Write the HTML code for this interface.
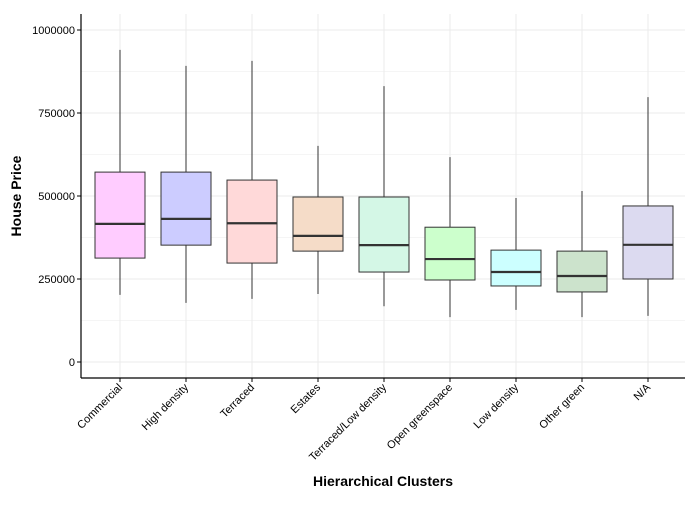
<!DOCTYPE html>
<html><head><meta charset="utf-8"><style>
body{margin:0;background:#fff;font-family:"Liberation Sans",sans-serif}
</style></head><body>
<svg id="chart" width="700" height="500" xmlns="http://www.w3.org/2000/svg">
<g id="grid"></g><g id="boxes"></g><g id="axes"></g>
<text x="383" y="486" text-anchor="middle" font-size="14" font-weight="bold">Hierarchical Clusters</text>
<text transform="translate(21,196) rotate(-90)" text-anchor="middle" font-size="14" font-weight="bold">House Price</text>
</svg>
<script>
const categories=["Commercial","High density","Terraced","Estates","Terraced/Low density","Open greenspace","Low density","Other green","N/A"];
const lows=[202000,178000,190000,205000,168000,135000,157000,135000,139000];
const q1s=[313000,352000,298000,334000,271000,247000,229000,211000,250000];
const medians=[416000,431000,418000,380000,352000,310000,271000,259000,353000];
const q3s=[572000,572000,548000,497000,497000,406000,337000,334000,470000];
const highs=[940000,892000,907000,651000,831000,617000,494000,515000,798000];
const fills=["#ffccff","#ccccff","#ffd9d9","#f5dcc8","#d4f7e6","#ccffcc","#ccffff","#cce3cc","#dcdaf0"];
const yTicks=[0,250000,500000,750000,1000000];
const NS="http://www.w3.org/2000/svg";
const L=81,R=685,T=14,B=378;
const y=v=>362-v/250000*83;
const x=i=>120+i*66;
function mk(tag,attrs,parent,text){const e=document.createElementNS(NS,tag);for(const k in attrs)e.setAttribute(k,attrs[k]);if(text!==undefined)e.textContent=text;parent.appendChild(e);return e;}
const grid=document.getElementById('grid'),boxes=document.getElementById('boxes'),axes=document.getElementById('axes');
yTicks.forEach((t,i)=>{
 const g=mk('line',{x1:L,x2:R,y1:y(t),y2:y(t),stroke:'#ebebeb','stroke-width':1},grid);
 
 
 if(i<yTicks.length-1){const m=mk('line',{x1:L,x2:R,y1:y(t+125000),y2:y(t+125000),stroke:'#f5f5f5','stroke-width':1},grid);
 
 }
 const tk=mk('line',{x1:L-4,x2:L,y1:y(t),y2:y(t),stroke:'#000'},axes);
 
 
 const lb=mk('text',{x:L-6,y:y(t)+4,'text-anchor':'end','font-size':11},axes,String(t));
 
 
});
categories.forEach((c,i)=>{
 const gl=mk('line',{x1:x(i),x2:x(i),y1:T,y2:B,stroke:'#ebebeb'},grid);
 
 
 const g=mk('g',{},boxes);
 
 
 mk('line',{x1:x(i),x2:x(i),y1:y(highs[i]),y2:y(q3s[i]),stroke:'#333'},g);
 mk('line',{x1:x(i),x2:x(i),y1:y(q1s[i]),y2:y(lows[i]),stroke:'#333'},g);
 mk('rect',{x:x(i)-25,y:y(q3s[i]),width:50,height:y(q1s[i])-y(q3s[i]),fill:fills[i],stroke:'#333','stroke-width':1},g);
 mk('line',{x1:x(i)-25,x2:x(i)+25,y1:y(medians[i]),y2:y(medians[i]),stroke:'#333','stroke-width':2.2},g);
 const tk=mk('line',{x1:x(i),x2:x(i),y1:B,y2:B+4,stroke:'#000'},axes);
 
 
 const lb=mk('text',{transform:`translate(${x(i)+3},${B+10}) rotate(-45)`,'text-anchor':'end','font-size':11},axes,c);
 
 
});
const ya=mk('line',{x1:L,x2:L,y1:T,y2:B,stroke:'#000','stroke-width':1.2},axes);


const xa=mk('line',{x1:L,x2:R,y1:B,y2:B,stroke:'#000','stroke-width':1.2},axes);


</script>
</body></html>
